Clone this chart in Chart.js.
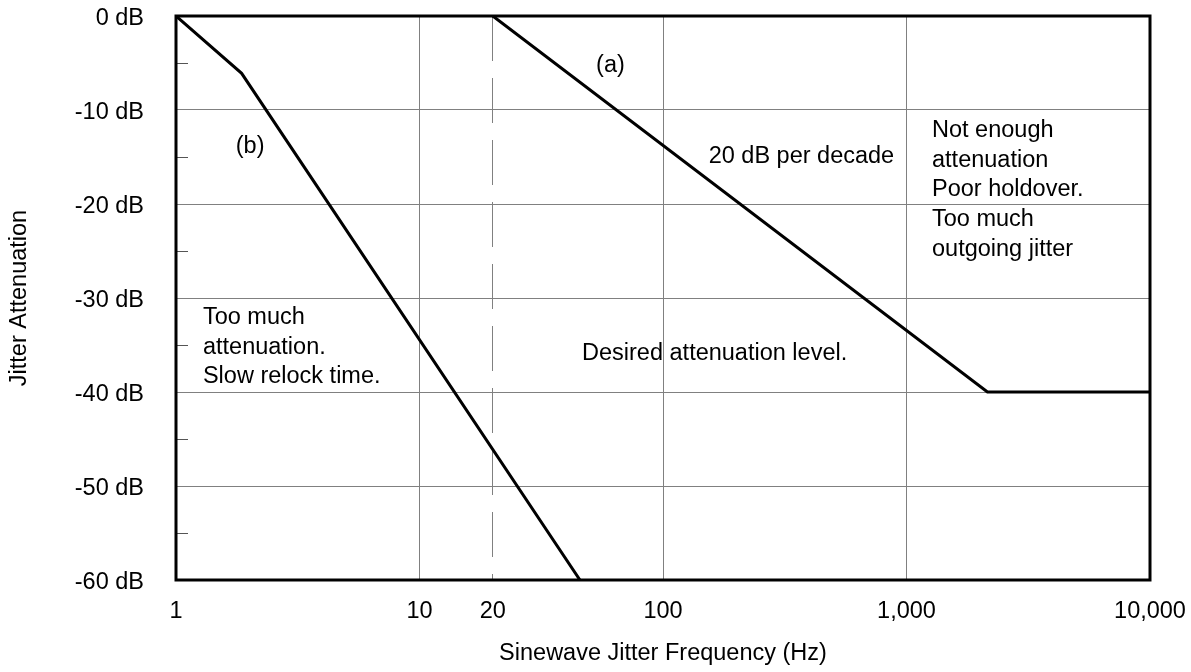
<!DOCTYPE html>
<html>
<head>
<meta charset="utf-8">
<script src="https://cdn.jsdelivr.net/npm/chart.js@4"></script>
<style>
  html, body { margin: 0; padding: 0; background: #fff; }
  #wrap { width: 1191px; height: 672px; position: relative; }
</style>
</head>
<body>
<div id="wrap"><canvas id="chart"></canvas></div>
<script>
// ---- data ----
const freqA = [20, 2150, 10000];     // Hz
const attenA = [0, -40, -40];        // dB
const freqB = [1, 1.86, 45.6];
const attenB = [0, -6.1, -60];

const xTicks = [1, 10, 20, 100, 1000, 10000];
const yMinorTicks = [-5, -15, -25, -35, -45, -55];

// text notes, anchored in data units (left edge, middle of first line)
const notes = [
  { x: 53.1, y: -5.3, lines: ['(a)'] },
  { x: 1.76, y: -13.9, lines: ['(b)'] },
  { x: 154, y: -14.95, lines: ['20 dB per decade'] },
  { x: 1273, y: -12.2, lines: ['Not enough', 'attenuation', 'Poor holdover.', 'Too much', 'outgoing jitter'] },
  { x: 1.29, y: -32.1, lines: ['Too much', 'attenuation.', 'Slow relock time.'] },
  { x: 46.5, y: -35.95, lines: ['Desired attenuation level.'] },
];

const FONT = "'Liberation Sans', Arial, sans-serif";
const FONT_SIZE = 23.5;
const GRID = '#808080';

Chart.defaults.font.family = FONT;
Chart.defaults.font.size = FONT_SIZE;
Chart.defaults.color = '#000';

const toPoints = (xs, ys) => xs.map((x, i) => ({ x: x, y: ys[i] }));

// frame, minor ticks and notes
const extras = {
  id: 'extras',
  afterDatasetsDraw(chart) {
    const { ctx, chartArea: a, scales } = chart;
    ctx.save();
    // minor ticks on the left axis
    ctx.strokeStyle = '#555';
    ctx.lineWidth = 1;
    yMinorTicks.forEach(v => {
      const y = Math.round(scales.y.getPixelForValue(v)) + 0.5;
      ctx.beginPath();
      ctx.moveTo(a.left, y);
      ctx.lineTo(a.left + 12, y);
      ctx.stroke();
    });
    // frame
    ctx.strokeStyle = '#000';
    ctx.lineWidth = 3;
    ctx.strokeRect(a.left, a.top, a.right - a.left, a.bottom - a.top);
    // notes
    ctx.fillStyle = '#000';
    ctx.font = FONT_SIZE + 'px ' + FONT;
    ctx.textAlign = 'left';
    ctx.textBaseline = 'middle';
    notes.forEach(n => {
      const x = scales.x.getPixelForValue(n.x);
      const y = scales.y.getPixelForValue(n.y);
      n.lines.forEach((t, i) => ctx.fillText(t, x, y + i * 29.6));
    });
    ctx.restore();
  }
};

new Chart(document.getElementById('chart'), {
  type: 'line',
  data: {
    datasets: [
      { label: '(a)', data: toPoints(freqA, attenA) },
      { label: '(b)', data: toPoints(freqB, attenB) },
    ]
  },
  options: {
    responsive: true,
    maintainAspectRatio: false,
    animation: false,
    layout: { padding: { left: 0, right: 41, top: 16, bottom: 0 } },
    elements: {
      line: { borderColor: '#000', borderWidth: 3, tension: 0, fill: false },
      point: { radius: 0, hoverRadius: 0 }
    },
    plugins: { legend: { display: false }, tooltip: { enabled: false } },
    scales: {
      x: {
        type: 'logarithmic',
        min: 1,
        max: 10000,
        afterBuildTicks: (scale) => { scale.ticks = xTicks.map(v => ({ value: v })); },
        afterFit: (scale) => {
          scale.height = 92;
          scale.paddingLeft = 0;
          scale.paddingRight = 0;
        },
        ticks: {
          autoSkip: false,
          maxRotation: 0,
          padding: 17,
          callback: (v) => Number(v).toLocaleString('en-US')
        },
        grid: {
          drawTicks: false,
          lineWidth: 1,
          color: (c) => (c.tick && (c.tick.value === 1 || c.tick.value === 10000)) ? 'rgba(0,0,0,0)' : GRID
        },
        border: {
          display: false,
          dash: (c) => (c.tick && c.tick.value === 20) ? [45, 17] : []
        },
        title: {
          display: true,
          text: 'Sinewave Jitter Frequency (Hz)',
          padding: { top: 0, bottom: 4 }
        }
      },
      y: {
        min: -60,
        max: 0,
        afterFit: (scale) => {
          scale.width = 176;
          scale.paddingTop = 0;
          scale.paddingBottom = 0;
        },
        ticks: {
          stepSize: 10,
          padding: 32,
          labelOffset: 3,
          callback: (v) => v + ' dB'
        },
        grid: {
          drawTicks: false,
          lineWidth: 1,
          color: (c) => (c.tick && (c.tick.value === 0 || c.tick.value === -60)) ? 'rgba(0,0,0,0)' : GRID
        },
        border: { display: false },
        title: {
          display: true,
          text: 'Jitter Attenuation',
          padding: { top: 5, bottom: 0 }
        }
      }
    }
  },
  plugins: [extras]
});
</script>
</body>
</html>
